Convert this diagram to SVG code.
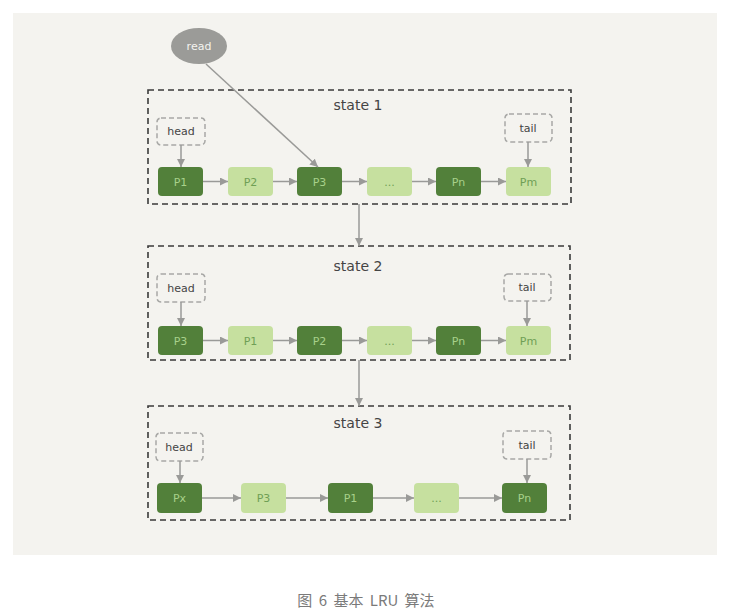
<svg xmlns="http://www.w3.org/2000/svg" width="736" height="613" viewBox="0 0 736 613">
  <defs>
    <marker id="arr" viewBox="0 0 10 10" refX="10" refY="5" markerWidth="8" markerHeight="8" markerUnits="userSpaceOnUse" orient="auto">
      <path d="M0,0 L10,5 L0,10 z" fill="#9a9a98"/>
    </marker>
    <style>
      .panel { fill: #f4f3ef; }
      .state { fill: none; stroke: #3a3a3a; stroke-width: 1.6; stroke-dasharray: 6 4; }
      .ptr { fill: #f4f3ef; stroke: #a8a8a6; stroke-width: 1.5; stroke-dasharray: 5 3; }
      .dark { fill: #52803a; }
      .light { fill: #c6e09f; }
      .tdark { fill: #a8d18a; font: 11px "DejaVu Sans", sans-serif; text-anchor: middle; }
      .tlight { fill: #6f9f55; font: 11px "DejaVu Sans", sans-serif; text-anchor: middle; }
      .lbl { fill: #444; font: 14px "DejaVu Sans", sans-serif; text-anchor: middle; }
      .ptrlbl { fill: #444; font: 11px "DejaVu Sans", sans-serif; text-anchor: middle; }
      .edge { stroke: #9a9a98; stroke-width: 1.5; fill: none; marker-end: url(#arr); }
      .cap { fill: #7a7a7a; font: 15px "Noto Sans CJK SC", "Noto Sans", sans-serif; text-anchor: middle; word-spacing: 3px; }
    </style>
  </defs>

  <rect x="0" y="0" width="736" height="613" fill="#ffffff"/>
  <rect class="panel" x="13" y="13" width="704" height="542"/>

  <!-- state containers -->
  <g id="state1">
    <rect class="state" x="148" y="90" width="423" height="114"/>
    <text class="lbl" x="358" y="110">state 1</text>
  </g>
  <g id="state2">
    <rect class="state" x="148" y="246" width="422" height="114"/>
    <text class="lbl" x="358" y="271">state 2</text>
  </g>
  <g id="state3">
    <rect class="state" x="148" y="406" width="422" height="114"/>
    <text class="lbl" x="358" y="428">state 3</text>
  </g>

  <!-- read request -->
  <g id="read">
    <ellipse cx="199" cy="46" rx="28" ry="18" fill="#9b9b98"/>
    <text x="199" y="50" fill="#f4f3ef" font-family="DejaVu Sans, sans-serif" font-size="11" text-anchor="middle">read</text>
  </g>

  <!-- pointers -->
  <g id="head1"><rect class="ptr" x="157" y="118" width="48" height="27" rx="4"/><text class="ptrlbl" x="181" y="135">head</text></g>
  <g id="tail1"><rect class="ptr" x="505" y="114" width="47" height="28" rx="4"/><text class="ptrlbl" x="528" y="132">tail</text></g>
  <g id="head2"><rect class="ptr" x="157" y="274" width="48" height="28" rx="4"/><text class="ptrlbl" x="181" y="292">head</text></g>
  <g id="tail2"><rect class="ptr" x="504" y="274" width="47" height="27" rx="4"/><text class="ptrlbl" x="527" y="291">tail</text></g>
  <g id="head3"><rect class="ptr" x="156" y="433" width="47" height="28" rx="4"/><text class="ptrlbl" x="179" y="451">head</text></g>
  <g id="tail3"><rect class="ptr" x="503" y="431" width="48" height="28" rx="4"/><text class="ptrlbl" x="527" y="449">tail</text></g>

  <!-- state 1 pages -->
  <g id="s1-p1"><rect class="dark" x="158" y="167" width="45" height="29" rx="4"/><text class="tdark" x="180.5" y="185.5">P1</text></g>
  <g id="s1-p2"><rect class="light" x="228" y="167" width="45" height="29" rx="4"/><text class="tlight" x="250.5" y="185.5">P2</text></g>
  <g id="s1-p3"><rect class="dark" x="297" y="167" width="45" height="29" rx="4"/><text class="tdark" x="319.5" y="185.5">P3</text></g>
  <g id="s1-etc"><rect class="light" x="367" y="167" width="45" height="29" rx="4"/><text class="tlight" x="389.5" y="185.5">...</text></g>
  <g id="s1-pn"><rect class="dark" x="436" y="167" width="45" height="29" rx="4"/><text class="tdark" x="458.5" y="185.5">Pn</text></g>
  <g id="s1-pm"><rect class="light" x="506" y="167" width="45" height="29" rx="4"/><text class="tlight" x="528.5" y="185.5">Pm</text></g>

  <!-- state 2 pages -->
  <g id="s2-p3"><rect class="dark" x="158" y="326" width="45" height="29" rx="4"/><text class="tdark" x="180.5" y="344.5">P3</text></g>
  <g id="s2-p1"><rect class="light" x="228" y="326" width="45" height="29" rx="4"/><text class="tlight" x="250.5" y="344.5">P1</text></g>
  <g id="s2-p2"><rect class="dark" x="297" y="326" width="45" height="29" rx="4"/><text class="tdark" x="319.5" y="344.5">P2</text></g>
  <g id="s2-etc"><rect class="light" x="367" y="326" width="45" height="29" rx="4"/><text class="tlight" x="389.5" y="344.5">...</text></g>
  <g id="s2-pn"><rect class="dark" x="436" y="326" width="45" height="29" rx="4"/><text class="tdark" x="458.5" y="344.5">Pn</text></g>
  <g id="s2-pm"><rect class="light" x="506" y="326" width="45" height="29" rx="4"/><text class="tlight" x="528.5" y="344.5">Pm</text></g>

  <!-- state 3 pages -->
  <g id="s3-px"><rect class="dark" x="157" y="483" width="45" height="30" rx="4"/><text class="tdark" x="179.5" y="502">Px</text></g>
  <g id="s3-p3"><rect class="light" x="241" y="483" width="45" height="30" rx="4"/><text class="tlight" x="263.5" y="502">P3</text></g>
  <g id="s3-p1"><rect class="dark" x="328" y="483" width="45" height="30" rx="4"/><text class="tdark" x="350.5" y="502">P1</text></g>
  <g id="s3-etc"><rect class="light" x="414" y="483" width="45" height="30" rx="4"/><text class="tlight" x="436.5" y="502">...</text></g>
  <g id="s3-pn"><rect class="dark" x="502" y="483" width="45" height="30" rx="4"/><text class="tdark" x="524.5" y="502">Pn</text></g>

  <!-- connectors -->
  <g id="connectors">
    <line class="edge" x1="206" y1="64" x2="318" y2="167"/>
    <line class="edge" x1="359" y1="204" x2="359" y2="246"/>
    <line class="edge" x1="359" y1="360" x2="359" y2="406"/>

    <line class="edge" x1="181" y1="145" x2="181" y2="167"/>
    <line class="edge" x1="528" y1="142" x2="528" y2="167"/>
    <line class="edge" x1="203" y1="181.5" x2="228" y2="181.5"/>
    <line class="edge" x1="273" y1="181.5" x2="297" y2="181.5"/>
    <line class="edge" x1="342" y1="181.5" x2="367" y2="181.5"/>
    <line class="edge" x1="412" y1="181.5" x2="436" y2="181.5"/>
    <line class="edge" x1="481" y1="181.5" x2="506" y2="181.5"/>

    <line class="edge" x1="181" y1="302" x2="181" y2="326"/>
    <line class="edge" x1="527" y1="301" x2="527" y2="326"/>
    <line class="edge" x1="203" y1="340.5" x2="228" y2="340.5"/>
    <line class="edge" x1="273" y1="340.5" x2="297" y2="340.5"/>
    <line class="edge" x1="342" y1="340.5" x2="367" y2="340.5"/>
    <line class="edge" x1="412" y1="340.5" x2="436" y2="340.5"/>
    <line class="edge" x1="481" y1="340.5" x2="506" y2="340.5"/>

    <line class="edge" x1="180" y1="461" x2="180" y2="483"/>
    <line class="edge" x1="527" y1="459" x2="527" y2="483"/>
    <line class="edge" x1="202" y1="498" x2="241" y2="498"/>
    <line class="edge" x1="286" y1="498" x2="328" y2="498"/>
    <line class="edge" x1="373" y1="498" x2="414" y2="498"/>
    <line class="edge" x1="459" y1="498" x2="502" y2="498"/>
  </g>

  <text class="cap" x="366" y="606">图 6 基本 LRU 算法</text>
</svg>
